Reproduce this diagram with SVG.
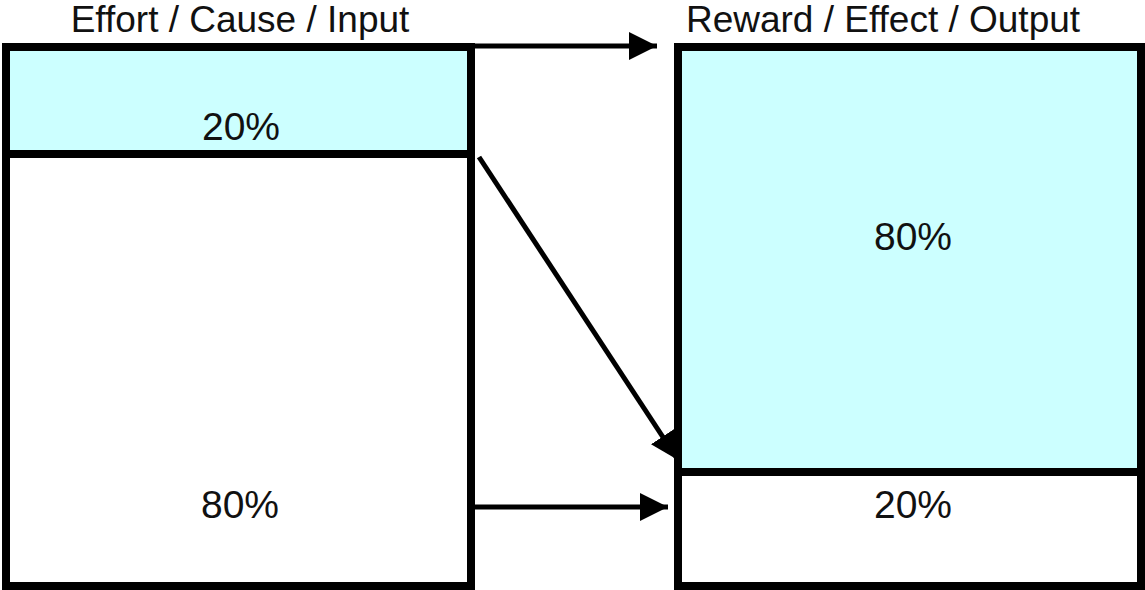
<svg xmlns="http://www.w3.org/2000/svg" width="1145" height="590" viewBox="0 0 1145 590">
  <defs>
    <style>
      .box { stroke: #000; stroke-width: 8; }
      .hi { fill: #CCFFFF; }
      .lo { fill: #FFFFFF; }
      .label { font-family: "Liberation Sans", Arial, sans-serif; fill: #111; text-anchor: middle; }
      .title { font-size: 37px; }
      .pct { font-size: 39px; }
      .link { stroke: #000; stroke-width: 5; fill: none; }
    </style>
    <marker id="arrow" markerUnits="userSpaceOnUse" markerWidth="28" markerHeight="28" viewBox="0 0 26 26" refX="26" refY="13" orient="auto">
      <polygon points="0,0 26,13 0,26" fill="#000"/>
    </marker>
  </defs>

  <rect width="1145" height="590" fill="#FFFFFF"/>

  <!-- left column: effort -->
  <g id="input">
    <text class="label title" x="240" y="32">Effort / Cause / Input</text>
    <rect class="box hi" x="6" y="47" width="465" height="107"/>
    <rect class="box lo" x="6" y="154" width="465" height="432"/>
    <text class="label pct" x="241" y="140">20%</text>
    <text class="label pct" x="240" y="518">80%</text>
  </g>

  <!-- right column: reward -->
  <g id="output">
    <text class="label title" x="883" y="32">Reward / Effect / Output</text>
    <rect class="box hi" x="678" y="47" width="463" height="425"/>
    <rect class="box lo" x="678" y="472" width="463" height="114"/>
    <text class="label pct" x="913" y="250">80%</text>
    <text class="label pct" x="913" y="518">20%</text>
  </g>

  <!-- connectors -->
  <g id="connectors">
    <line class="link" x1="475" y1="46" x2="657" y2="46" marker-end="url(#arrow)"/>
    <line class="link" x1="479" y1="157" x2="678" y2="460" marker-end="url(#arrow)"/>
    <line class="link" x1="473" y1="507" x2="668" y2="507" marker-end="url(#arrow)"/>
  </g>
</svg>
